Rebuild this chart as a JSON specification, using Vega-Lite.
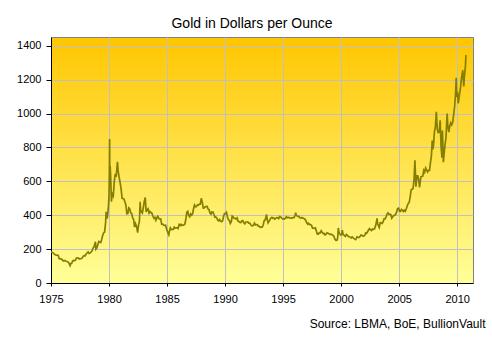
{
  "$schema": "https://vega.github.io/schema/vega-lite/v6.json",
  "width": 422,
  "height": 246,
  "autosize": "none",
  "padding": {"left": 51, "top": 37, "right": 19, "bottom": 56},
  "background": "white",
  "title": {
    "text": "Gold in Dollars per Ounce",
    "font": "Liberation Sans",
    "fontSize": 14,
    "fontWeight": "normal",
    "color": "black",
    "anchor": "middle",
    "dx": -10,
    "offset": 6
  },
  "config": {
    "view": {
      "stroke": "#808080",
      "strokeWidth": 1,
      "fill": {
        "gradient": "linear",
        "x1": 0, "y1": 0, "x2": 0, "y2": 1,
        "stops": [
          {"offset": 0, "color": "#FFC600"},
          {"offset": 1, "color": "#FFFF99"}
        ]
      }
    },
    "axis": {
      "labelFont": "Liberation Sans",
      "labelFontSize": 11,
      "labelColor": "black",
      "labelFlush": false,
      "domainColor": "black",
      "tickColor": "black",
      "gridColor": "#c0c0c0",
      "gridWidth": 1
    }
  },
  "data": {
    "values": [
      {"d":"1975-01-02","p":185},{"d":"1975-02-15","p":180},{"d":"1975-03-15","p":178},{"d":"1975-04-15","p":170},{"d":"1975-05-15","p":167},{"d":"1975-06-15","p":164},{"d":"1975-07-15","p":165},{"d":"1975-08-15","p":163},{"d":"1975-09-15","p":144},{"d":"1975-10-15","p":142},{"d":"1975-11-15","p":142},{"d":"1975-12-15","p":139},
      {"d":"1976-01-15","p":131},{"d":"1976-02-15","p":131},{"d":"1976-03-15","p":133},{"d":"1976-04-15","p":128},{"d":"1976-05-15","p":127},{"d":"1976-06-15","p":126},{"d":"1976-07-15","p":118},{"d":"1976-08-25","p":103},{"d":"1976-09-15","p":114},{"d":"1976-10-15","p":117},{"d":"1976-11-15","p":131},{"d":"1976-12-15","p":133},
      {"d":"1977-01-15","p":132},{"d":"1977-02-15","p":136},{"d":"1977-03-15","p":148},{"d":"1977-04-15","p":149},{"d":"1977-05-15","p":147},{"d":"1977-06-15","p":141},{"d":"1977-07-15","p":143},{"d":"1977-08-15","p":145},{"d":"1977-09-15","p":150},{"d":"1977-10-15","p":159},{"d":"1977-11-15","p":162},{"d":"1977-12-15","p":161},
      {"d":"1978-01-15","p":173},{"d":"1978-02-15","p":178},{"d":"1978-03-15","p":184},{"d":"1978-04-15","p":175},{"d":"1978-05-15","p":177},{"d":"1978-06-15","p":183},{"d":"1978-07-15","p":189},{"d":"1978-08-15","p":206},{"d":"1978-09-15","p":212},{"d":"1978-10-31","p":243},{"d":"1978-11-15","p":200},{"d":"1978-12-15","p":208},
      {"d":"1979-01-15","p":227},{"d":"1979-02-15","p":245},{"d":"1979-03-15","p":242},{"d":"1979-04-15","p":239},{"d":"1979-05-15","p":257},{"d":"1979-06-15","p":280},{"d":"1979-07-15","p":295},{"d":"1979-08-15","p":301},{"d":"1979-09-15","p":355},{"d":"1979-10-02","p":420},{"d":"1979-10-20","p":380},{"d":"1979-11-15","p":392},{"d":"1979-12-15","p":455},{"d":"1979-12-31","p":512},
      {"d":"1980-01-10","p":630},{"d":"1980-01-21","p":850},{"d":"1980-01-25","p":640},{"d":"1980-02-05","p":690},{"d":"1980-02-20","p":640},{"d":"1980-03-17","p":480},{"d":"1980-04-01","p":510},{"d":"1980-04-15","p":525},{"d":"1980-05-15","p":514},{"d":"1980-06-15","p":600},{"d":"1980-07-15","p":644},{"d":"1980-08-15","p":627},{"d":"1980-09-22","p":715},{"d":"1980-10-15","p":661},{"d":"1980-11-15","p":623},{"d":"1980-12-15","p":594},
      {"d":"1981-01-15","p":557},{"d":"1981-02-15","p":500},{"d":"1981-03-15","p":499},{"d":"1981-04-15","p":495},{"d":"1981-05-15","p":480},{"d":"1981-06-15","p":461},{"d":"1981-07-15","p":409},{"d":"1981-08-15","p":410},{"d":"1981-09-15","p":443},{"d":"1981-10-15","p":437},{"d":"1981-11-15","p":413},{"d":"1981-12-15","p":410},
      {"d":"1982-01-15","p":384},{"d":"1982-02-15","p":374},{"d":"1982-03-15","p":330},{"d":"1982-04-15","p":350},{"d":"1982-05-15","p":334},{"d":"1982-06-21","p":297},{"d":"1982-07-15","p":339},{"d":"1982-08-15","p":364},{"d":"1982-09-07","p":480},{"d":"1982-09-25","p":420},{"d":"1982-10-15","p":422},{"d":"1982-11-15","p":414},{"d":"1982-12-15","p":444},
      {"d":"1983-01-15","p":481},{"d":"1983-02-15","p":505},{"d":"1983-03-15","p":419},{"d":"1983-04-15","p":432},{"d":"1983-05-15","p":438},{"d":"1983-06-15","p":413},{"d":"1983-07-15","p":422},{"d":"1983-08-15","p":416},{"d":"1983-09-15","p":412},{"d":"1983-10-15","p":394},{"d":"1983-11-15","p":382},{"d":"1983-12-15","p":388},
      {"d":"1984-01-15","p":371},{"d":"1984-02-15","p":386},{"d":"1984-03-15","p":394},{"d":"1984-04-15","p":381},{"d":"1984-05-15","p":377},{"d":"1984-06-15","p":378},{"d":"1984-07-15","p":348},{"d":"1984-08-15","p":348},{"d":"1984-09-15","p":341},{"d":"1984-10-15","p":340},{"d":"1984-11-15","p":341},{"d":"1984-12-15","p":320},
      {"d":"1985-01-15","p":303},{"d":"1985-02-25","p":285},{"d":"1985-03-15","p":304},{"d":"1985-04-15","p":325},{"d":"1985-05-15","p":316},{"d":"1985-06-15","p":317},{"d":"1985-07-15","p":317},{"d":"1985-08-15","p":330},{"d":"1985-09-15","p":323},{"d":"1985-10-15","p":326},{"d":"1985-11-15","p":325},{"d":"1985-12-15","p":322},
      {"d":"1986-01-15","p":345},{"d":"1986-02-15","p":339},{"d":"1986-03-15","p":346},{"d":"1986-04-15","p":340},{"d":"1986-05-15","p":342},{"d":"1986-06-15","p":343},{"d":"1986-07-15","p":348},{"d":"1986-08-15","p":376},{"d":"1986-09-15","p":418},{"d":"1986-10-15","p":423},{"d":"1986-11-15","p":398},{"d":"1986-12-15","p":391},
      {"d":"1987-01-15","p":408},{"d":"1987-02-15","p":401},{"d":"1987-03-15","p":408},{"d":"1987-04-15","p":438},{"d":"1987-05-15","p":460},{"d":"1987-06-15","p":450},{"d":"1987-07-15","p":451},{"d":"1987-08-15","p":461},{"d":"1987-09-15","p":460},{"d":"1987-10-15","p":466},{"d":"1987-11-15","p":466},{"d":"1987-12-14","p":500},
      {"d":"1988-01-15","p":477},{"d":"1988-02-15","p":442},{"d":"1988-03-15","p":443},{"d":"1988-04-15","p":451},{"d":"1988-05-15","p":451},{"d":"1988-06-15","p":452},{"d":"1988-07-15","p":437},{"d":"1988-08-15","p":433},{"d":"1988-09-15","p":413},{"d":"1988-10-15","p":406},{"d":"1988-11-15","p":420},{"d":"1988-12-15","p":419},
      {"d":"1989-01-15","p":404},{"d":"1989-02-15","p":388},{"d":"1989-03-15","p":390},{"d":"1989-04-15","p":384},{"d":"1989-05-15","p":371},{"d":"1989-06-15","p":367},{"d":"1989-07-15","p":375},{"d":"1989-08-15","p":365},{"d":"1989-09-15","p":362},{"d":"1989-10-15","p":367},{"d":"1989-11-15","p":394},{"d":"1989-12-15","p":410},
      {"d":"1990-01-15","p":410},{"d":"1990-02-15","p":417},{"d":"1990-03-15","p":393},{"d":"1990-04-15","p":374},{"d":"1990-05-15","p":369},{"d":"1990-06-15","p":352},{"d":"1990-07-15","p":362},{"d":"1990-08-15","p":395},{"d":"1990-09-15","p":389},{"d":"1990-10-15","p":381},{"d":"1990-11-15","p":381},{"d":"1990-12-15","p":378},
      {"d":"1991-01-15","p":384},{"d":"1991-02-15","p":364},{"d":"1991-03-15","p":363},{"d":"1991-04-15","p":358},{"d":"1991-05-15","p":357},{"d":"1991-06-15","p":367},{"d":"1991-07-15","p":368},{"d":"1991-08-15","p":356},{"d":"1991-09-15","p":349},{"d":"1991-10-15","p":359},{"d":"1991-11-15","p":360},{"d":"1991-12-15","p":361},
      {"d":"1992-01-15","p":354},{"d":"1992-02-15","p":354},{"d":"1992-03-15","p":345},{"d":"1992-04-15","p":338},{"d":"1992-05-15","p":337},{"d":"1992-06-15","p":341},{"d":"1992-07-15","p":353},{"d":"1992-08-15","p":343},{"d":"1992-09-15","p":345},{"d":"1992-10-15","p":344},{"d":"1992-11-15","p":335},{"d":"1992-12-15","p":334},
      {"d":"1993-01-15","p":329},{"d":"1993-02-15","p":330},{"d":"1993-03-15","p":330},{"d":"1993-04-15","p":342},{"d":"1993-05-15","p":367},{"d":"1993-06-15","p":372},{"d":"1993-07-30","p":405},{"d":"1993-08-15","p":379},{"d":"1993-09-15","p":355},{"d":"1993-10-15","p":364},{"d":"1993-11-15","p":374},{"d":"1993-12-15","p":383},
      {"d":"1994-01-15","p":387},{"d":"1994-02-15","p":382},{"d":"1994-03-15","p":384},{"d":"1994-04-15","p":377},{"d":"1994-05-15","p":381},{"d":"1994-06-15","p":386},{"d":"1994-07-15","p":385},{"d":"1994-08-15","p":380},{"d":"1994-09-15","p":392},{"d":"1994-10-15","p":390},{"d":"1994-11-15","p":384},{"d":"1994-12-15","p":379},
      {"d":"1995-01-15","p":379},{"d":"1995-02-15","p":377},{"d":"1995-03-15","p":383},{"d":"1995-04-15","p":391},{"d":"1995-05-15","p":385},{"d":"1995-06-15","p":387},{"d":"1995-07-15","p":386},{"d":"1995-08-15","p":383},{"d":"1995-09-15","p":383},{"d":"1995-10-15","p":383},{"d":"1995-11-15","p":386},{"d":"1995-12-15","p":387},
      {"d":"1996-01-15","p":400},{"d":"1996-02-02","p":415},{"d":"1996-02-20","p":400},{"d":"1996-03-15","p":396},{"d":"1996-04-15","p":393},{"d":"1996-05-15","p":392},{"d":"1996-06-15","p":385},{"d":"1996-07-15","p":383},{"d":"1996-08-15","p":387},{"d":"1996-09-15","p":383},{"d":"1996-10-15","p":381},{"d":"1996-11-15","p":378},{"d":"1996-12-15","p":369},
      {"d":"1997-01-15","p":355},{"d":"1997-02-15","p":347},{"d":"1997-03-15","p":352},{"d":"1997-04-15","p":344},{"d":"1997-05-15","p":344},{"d":"1997-06-15","p":341},{"d":"1997-07-15","p":324},{"d":"1997-08-15","p":324},{"d":"1997-09-15","p":323},{"d":"1997-10-15","p":325},{"d":"1997-11-15","p":306},{"d":"1997-12-15","p":289},
      {"d":"1998-01-15","p":289},{"d":"1998-02-15","p":297},{"d":"1998-03-15","p":296},{"d":"1998-04-15","p":308},{"d":"1998-05-15","p":299},{"d":"1998-06-15","p":292},{"d":"1998-07-15","p":293},{"d":"1998-08-15","p":284},{"d":"1998-09-15","p":289},{"d":"1998-10-15","p":296},{"d":"1998-11-15","p":294},{"d":"1998-12-15","p":291},
      {"d":"1999-01-15","p":287},{"d":"1999-02-15","p":288},{"d":"1999-03-15","p":286},{"d":"1999-04-15","p":282},{"d":"1999-05-15","p":277},{"d":"1999-06-15","p":261},{"d":"1999-07-20","p":252},{"d":"1999-08-25","p":253},{"d":"1999-09-15","p":265},{"d":"1999-10-05","p":325},{"d":"1999-10-25","p":300},{"d":"1999-11-15","p":293},{"d":"1999-12-15","p":284},
      {"d":"2000-01-15","p":284},{"d":"2000-02-08","p":312},{"d":"2000-02-25","p":293},{"d":"2000-03-15","p":286},{"d":"2000-04-15","p":280},{"d":"2000-05-15","p":275},{"d":"2000-06-15","p":286},{"d":"2000-07-15","p":282},{"d":"2000-08-15","p":274},{"d":"2000-09-15","p":273},{"d":"2000-10-15","p":270},{"d":"2000-11-15","p":266},{"d":"2000-12-15","p":272},
      {"d":"2001-01-15","p":266},{"d":"2001-02-15","p":262},{"d":"2001-04-02","p":256},{"d":"2001-04-20","p":262},{"d":"2001-05-15","p":272},{"d":"2001-06-15","p":270},{"d":"2001-07-15","p":268},{"d":"2001-08-15","p":273},{"d":"2001-09-15","p":283},{"d":"2001-10-15","p":283},{"d":"2001-11-15","p":276},{"d":"2001-12-15","p":276},
      {"d":"2002-01-15","p":282},{"d":"2002-02-15","p":296},{"d":"2002-03-15","p":294},{"d":"2002-04-15","p":302},{"d":"2002-05-15","p":314},{"d":"2002-06-15","p":321},{"d":"2002-07-15","p":314},{"d":"2002-08-15","p":310},{"d":"2002-09-15","p":319},{"d":"2002-10-15","p":317},{"d":"2002-11-15","p":319},{"d":"2002-12-15","p":333},
      {"d":"2003-01-15","p":357},{"d":"2003-02-05","p":382},{"d":"2003-02-25","p":350},{"d":"2003-03-15","p":341},{"d":"2003-04-15","p":328},{"d":"2003-05-15","p":355},{"d":"2003-06-15","p":356},{"d":"2003-07-15","p":351},{"d":"2003-08-15","p":360},{"d":"2003-09-15","p":379},{"d":"2003-10-15","p":379},{"d":"2003-11-15","p":389},{"d":"2003-12-15","p":407},
      {"d":"2004-01-15","p":414},{"d":"2004-02-15","p":405},{"d":"2004-03-15","p":406},{"d":"2004-04-15","p":404},{"d":"2004-05-15","p":383},{"d":"2004-06-15","p":392},{"d":"2004-07-15","p":398},{"d":"2004-08-15","p":400},{"d":"2004-09-15","p":406},{"d":"2004-10-15","p":420},{"d":"2004-11-15","p":439},{"d":"2004-12-15","p":442},
      {"d":"2005-01-15","p":424},{"d":"2005-02-15","p":423},{"d":"2005-03-15","p":434},{"d":"2005-04-15","p":429},{"d":"2005-05-15","p":422},{"d":"2005-06-15","p":430},{"d":"2005-07-15","p":424},{"d":"2005-08-15","p":438},{"d":"2005-09-15","p":456},{"d":"2005-10-15","p":470},{"d":"2005-11-15","p":476},{"d":"2005-12-15","p":510},
      {"d":"2006-01-15","p":549},{"d":"2006-02-15","p":555},{"d":"2006-03-15","p":557},{"d":"2006-04-15","p":610},{"d":"2006-05-12","p":725},{"d":"2006-06-14","p":568},{"d":"2006-07-15","p":633},{"d":"2006-08-15","p":632},{"d":"2006-09-15","p":598},{"d":"2006-10-05","p":565},{"d":"2006-11-15","p":627},{"d":"2006-12-15","p":629},
      {"d":"2007-01-15","p":631},{"d":"2007-02-15","p":665},{"d":"2007-03-15","p":655},{"d":"2007-04-15","p":679},{"d":"2007-05-15","p":667},{"d":"2007-06-15","p":655},{"d":"2007-07-15","p":665},{"d":"2007-08-15","p":665},{"d":"2007-09-15","p":712},{"d":"2007-10-15","p":754},{"d":"2007-11-08","p":841},{"d":"2007-11-25","p":790},{"d":"2007-12-15","p":803},
      {"d":"2008-01-15","p":889},{"d":"2008-02-15","p":922},{"d":"2008-03-17","p":1011},{"d":"2008-04-15","p":909},{"d":"2008-05-15","p":888},{"d":"2008-06-15","p":889},{"d":"2008-07-15","p":960},{"d":"2008-08-15","p":800},{"d":"2008-09-11","p":740},{"d":"2008-09-25","p":900},{"d":"2008-10-24","p":713},{"d":"2008-11-15","p":760},{"d":"2008-12-15","p":816},
      {"d":"2009-01-15","p":858},{"d":"2009-02-20","p":1000},{"d":"2009-03-15","p":924},{"d":"2009-04-15","p":890},{"d":"2009-05-15","p":928},{"d":"2009-06-15","p":946},{"d":"2009-07-15","p":934},{"d":"2009-08-15","p":949},{"d":"2009-09-15","p":996},{"d":"2009-10-15","p":1043},{"d":"2009-11-15","p":1127},{"d":"2009-12-03","p":1212},{"d":"2009-12-20","p":1110},
      {"d":"2010-01-15","p":1117},{"d":"2010-02-05","p":1060},{"d":"2010-03-15","p":1113},{"d":"2010-04-15","p":1148},{"d":"2010-05-15","p":1205},{"d":"2010-06-28","p":1256},{"d":"2010-07-28","p":1160},{"d":"2010-08-15","p":1215},{"d":"2010-09-15","p":1271},{"d":"2010-10-06","p":1345}
    ]
  },
  "mark": {"type": "line", "color": "#857f00", "strokeWidth": 1.7, "clip": true},
  "encoding": {
    "x": {
      "field": "d",
      "type": "temporal",
      "scale": {
        "type": "utc",
        "domain": [{"year": 1975, "month": 1, "date": 1, "utc": true}, {"year": 2011, "month": 5, "date": 15, "utc": true}]
      },
      "axis": {
        "values": [
          {"year": 1975, "month": 1, "date": 1, "utc": true},
          {"year": 1980, "month": 1, "date": 1, "utc": true},
          {"year": 1985, "month": 1, "date": 1, "utc": true},
          {"year": 1990, "month": 1, "date": 1, "utc": true},
          {"year": 1995, "month": 1, "date": 1, "utc": true},
          {"year": 2000, "month": 1, "date": 1, "utc": true},
          {"year": 2005, "month": 1, "date": 1, "utc": true},
          {"year": 2010, "month": 1, "date": 1, "utc": true}
        ],
        "format": "%Y",
        "formatType": "utc",
        "grid": true,
        "tickSize": 3,
        "labelPadding": 7,
        "title": "Source: LBMA, BoE, BullionVault",
        "titleFont": "Liberation Sans",
        "titleFontSize": 12,
        "titleFontWeight": "normal",
        "titleColor": "black",
        "titleAnchor": "end",
        "titleAlign": "right",
        "titleBaseline": "alphabetic",
        "titleX": 434,
        "titleY": 44
      }
    },
    "y": {
      "field": "p",
      "type": "quantitative",
      "scale": {"domain": [0, 1452], "nice": false, "zero": true},
      "axis": {
        "values": [0, 200, 400, 600, 800, 1000, 1200, 1400],
        "format": "d",
        "grid": true,
        "tickSize": 5,
        "labelPadding": 5,
        "title": null
      }
    }
  }
}
